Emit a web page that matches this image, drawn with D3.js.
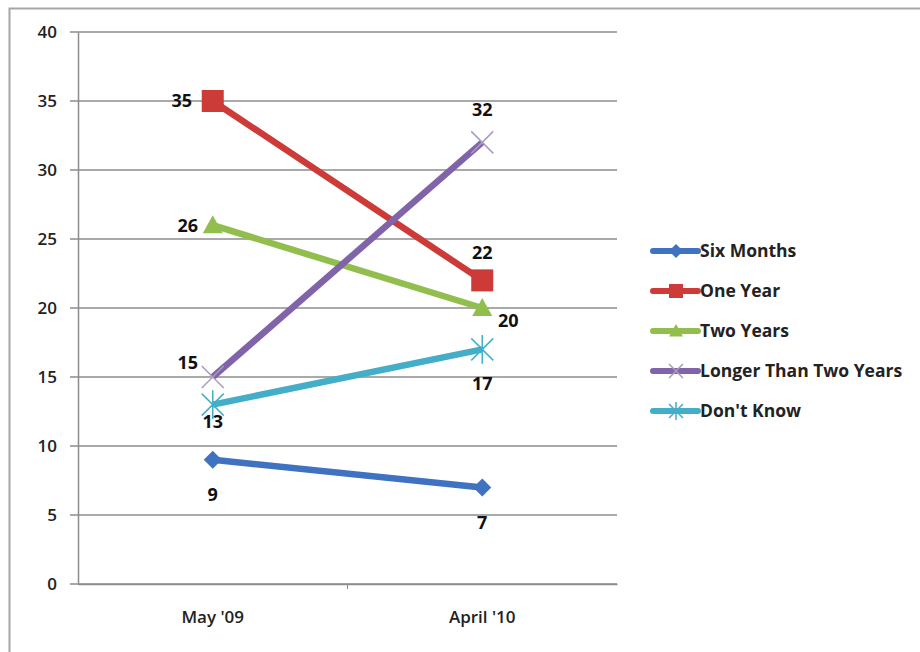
<!DOCTYPE html>
<html><head><meta charset="utf-8">
<script src="https://cdn.jsdelivr.net/npm/d3@7"></script>
<style>body{margin:0;background:#fff;} svg{display:block;}</style>
</head><body>
<svg id="c" width="920" height="652"></svg>
<script>
const categories = ["May '09", "April '10"];
const seriesNames = ["Six Months", "One Year", "Two Years", "Longer Than Two Years", "Don't Know"];
const sixMonths = [9, 7];
const oneYear = [35, 22];
const twoYears = [26, 20];
const longerThanTwo = [15, 32];
const dontKnow = [13, 17];
const yTicks = [0, 5, 10, 15, 20, 25, 30, 35, 40];
const colors = ["#3f72c0", "#cc3b37", "#92be4e", "#8063a8", "#44aec8"];
const markers = ["diamond", "square", "triangle", "x", "star"];
// label placement per series per point: [dx, dy] relative to the point
const labelOffsets = [[[0,41],[0,42]],[[-31,6],[0,-21]],[[-25,7],[26,19]],[[-25,-8],[0,-26]],[[0,23],[0,41]]];

(function(){
const seriesValues = [sixMonths, oneYear, twoYears, longerThanTwo, dontKnow];
const series = seriesNames.map((n,i)=>({name:n, values:seriesValues[i], color:colors[i], marker:markers[i], off:labelOffsets[i]}));

const svg = d3.select("#c");
const font = "'Open Sans', sans-serif";

// outer border
svg.append("rect").attr("x",9.5).attr("y",8.5).attr("width",930).attr("height",660)
  .attr("fill","none").attr("stroke","#a6a6a6").attr("stroke-width",2);

const mLeft = 78, mRight = 617, mTop = 32, mBottom = 584;
const y = d3.scaleLinear().domain([0,40]).range([mBottom, mTop]);
const x = d3.scaleBand().domain(categories).range([mLeft, mRight]);

// gridlines
svg.append("g").selectAll("line").data(yTicks).join("line")
  .attr("x1", mLeft-8).attr("x2", mRight).attr("y1", d=>y(d)).attr("y2", d=>y(d))
  .attr("stroke","#8c8c8c").attr("stroke-width",1.5);

// y axis
const yAxis = d3.axisLeft(y).tickValues(yTicks).tickSize(0).tickPadding(21);
const gy = svg.append("g").attr("transform",`translate(${mLeft},0)`).call(yAxis);
gy.select(".domain").attr("stroke","#8c8c8c").attr("stroke-width",1.5);
gy.selectAll("text").attr("font-family",font).attr("font-size",17).attr("font-weight",600).attr("fill","#222");

// x axis
const xAxis = d3.axisBottom(x).tickSize(0).tickPadding(27);
const gx = svg.append("g").attr("transform",`translate(0,${mBottom})`).call(xAxis);
gx.select(".domain").attr("stroke","#8c8c8c").attr("stroke-width",1.5);
gx.selectAll("text").attr("font-family",font).attr("font-size",17).attr("font-weight",600).attr("fill","#222");
gx.append("line").attr("x1", x(categories[1])).attr("x2", x(categories[1])).attr("y1",0).attr("y2",5)
  .attr("stroke","#8c8c8c").attr("stroke-width",1);

const cx = d => x(d) + x.bandwidth()/2;

function drawMarker(g, type, px, py, color, s) {
  if (type === "diamond") {
    g.append("path").attr("d", `M${px},${py-s}L${px+s},${py}L${px},${py+s}L${px-s},${py}Z`).attr("fill", color);
  } else if (type === "square") {
    g.append("rect").attr("x",px-s).attr("y",py-s).attr("width",2*s).attr("height",2*s).attr("fill",color);
  } else if (type === "triangle") {
    g.append("path").attr("d", `M${px},${py-s}L${px+s},${py+s*0.8}L${px-s},${py+s*0.8}Z`).attr("fill", color);
  } else if (type === "x") {
    g.append("path").attr("d", `M${px-s},${py-s}L${px+s},${py+s}M${px+s},${py-s}L${px-s},${py+s}`).attr("stroke", "#a99bbd").attr("stroke-width",1.5);
  } else if (type === "star") {
    g.append("path").attr("d", `M${px-s},${py-s}L${px+s},${py+s}M${px+s},${py-s}L${px-s},${py+s}M${px},${py-s*1.3}L${px},${py+s*1.3}`).attr("stroke", color).attr("stroke-width",1.5);
  }
}

const line = d3.line().x((d,i)=>cx(categories[i])).y(d=>y(d));

const plot = svg.append("g");
series.forEach(s => {
  plot.append("path").datum(s.values).attr("d", line).attr("fill","none")
    .attr("stroke", s.color).attr("stroke-width", 6.5);
});
series.forEach(s => {
  s.values.forEach((v,i) => {
    const px = cx(categories[i]), py = y(v);
    const sz = s.marker==="square"?11: s.marker==="diamond"?9: s.marker==="triangle"?10:11;
    drawMarker(plot, s.marker, px, py, s.color, sz);
    const [dx, dy] = s.off[i];
    plot.append("text").attr("x",px+dx).attr("y",py+dy).attr("text-anchor","middle")
      .attr("font-family",font).attr("font-size",18).attr("font-weight",700).attr("fill","#111").text(v);
  });
});

// legend
const lg = svg.append("g");
series.forEach((s,i) => {
  const ly = 251 + i*40;
  lg.append("line").attr("x1",653).attr("x2",698).attr("y1",ly).attr("y2",ly)
    .attr("stroke", s.color).attr("stroke-width",6).attr("stroke-linecap","round");
  drawMarker(lg, s.marker, 676, ly, s.color, 7);
  lg.append("text").attr("x",700).attr("y",ly+6).attr("font-family",font).attr("font-size",17.5)
    .attr("font-weight",700).attr("fill","#222").text(s.name);
});
})();
</script>
</body></html>
